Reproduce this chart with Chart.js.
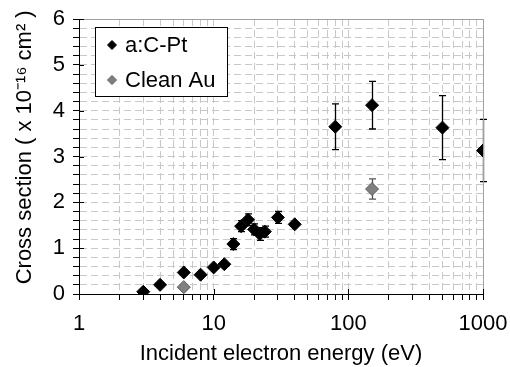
<!DOCTYPE html>
<html>
<head>
<meta charset="utf-8">
<script src="https://cdn.jsdelivr.net/npm/chart.js@4/dist/chart.umd.min.js"></script>
<style>
  html, body { margin: 0; padding: 0; background: #fff; }
  #c { display: block; }
</style>
</head>
<body>
<canvas id="c" width="510" height="367"></canvas>
<script>
// ---- Data ----
const seriesNames = ['a:C-Pt', 'Clean Au'];
const cptEnergy = [3, 4, 6, 8, 10, 12, 14, 16, 18, 20, 22, 24, 30, 40, 80, 150, 500, 1000];
const cptCross  = [0.05, 0.2, 0.47, 0.42, 0.58, 0.65, 1.09, 1.48, 1.62, 1.41, 1.31, 1.36, 1.67, 1.52, 3.65, 4.12, 3.63, 3.13];
const cptErr    = [0, 0, 0, 0, 0, 0, 0.12, 0.12, 0.13, 0.12, 0.14, 0.12, 0.13, 0, 0.5, 0.52, 0.7, 0.68];
const auEnergy  = [6, 150];
const auCross   = [0.15, 2.29];
const auErr     = [0, 0.22];
const xTickLabels = [1, 10, 100, 1000];
const yTickLabels = [0, 1, 2, 3, 4, 5, 6];

const FONT = "'Liberation Sans', Arial, sans-serif";
const FS = 22;
const errData = [cptErr, auErr];
const errColors = ['#000000', '#555555'];
const pointFill = ['#000000', '#808080'];
const pointBorder = ['#000000', '#5a5a5a'];

// minor log tick positions between labelled decades
const xGridTicks = [];
for (let i = 0; i < xTickLabels.length - 1; i++) {
  const d = xTickLabels[i];
  for (let m = 1; m < 10; m++) xGridTicks.push(d * m);
}
xGridTicks.push(xTickLabels[xTickLabels.length - 1]);

const extrasPlugin = {
  id: 'extras',
  beforeDatasetsDraw(chart) {
    const ctx = chart.ctx, xs = chart.scales.x, ys = chart.scales.y;
    chart.data.datasets.forEach((ds, di) => {
      const errs = errData[di];
      ctx.save();
      ctx.strokeStyle = errColors[di];
      ctx.lineWidth = 1.3;
      ds.data.forEach((p, i) => {
        const e = errs[i];
        if (!e) return;
        const px = Math.round(xs.getPixelForValue(p.x)) + 0.5;
        const y1 = ys.getPixelForValue(p.y + e);
        const y2 = ys.getPixelForValue(p.y - e);
        ctx.beginPath();
        ctx.moveTo(px, y1); ctx.lineTo(px, y2);
        ctx.moveTo(px - 3.5, y1); ctx.lineTo(px + 3.5, y1);
        ctx.moveTo(px - 3.5, y2); ctx.lineTo(px + 3.5, y2);
        ctx.stroke();
      });
      ctx.restore();
    });
  },
  afterDraw(chart) {
    const ctx = chart.ctx, a = chart.chartArea, xs = chart.scales.x, ys = chart.scales.y;
    ctx.save();
    // plot-area top/right border
    ctx.strokeStyle = '#a0a0a0';
    ctx.lineWidth = 1;
    ctx.beginPath();
    ctx.moveTo(a.left, Math.round(a.top) + 0.5);
    ctx.lineTo(Math.round(a.right) + 0.5, Math.round(a.top) + 0.5);
    ctx.lineTo(Math.round(a.right) + 0.5, a.bottom);
    ctx.stroke();
    // major tick marks crossing axes
    ctx.strokeStyle = '#000';
    ctx.beginPath();
    xTickLabels.forEach(v => {
      const px = Math.round(xs.getPixelForValue(v)) + 0.5;
      ctx.moveTo(px, a.bottom); ctx.lineTo(px, a.bottom - 5);
    });
    yTickLabels.forEach(v => {
      const py = Math.round(ys.getPixelForValue(v)) + 0.5;
      ctx.moveTo(a.left, py); ctx.lineTo(a.left + 5, py);
    });
    ctx.stroke();

    // legend box
    const bx = a.left + 16, by = a.top + 8, bw = 132, bh = 69;
    ctx.fillStyle = '#fff';
    ctx.fillRect(bx, by, bw, bh);
    ctx.strokeStyle = '#000';
    ctx.lineWidth = 1;
    ctx.strokeRect(bx + 0.5, by + 0.5, bw, bh);
    ctx.font = FS + 'px ' + FONT;
    ctx.textBaseline = 'middle';
    ctx.textAlign = 'left';
    chart.data.datasets.forEach((ds, di) => {
      const cy = by + 18 + di * 35;
      const cx = bx + 17;
      ctx.beginPath();
      ctx.moveTo(cx - 4.5, cy); ctx.lineTo(cx, cy - 4.5);
      ctx.lineTo(cx + 4.5, cy); ctx.lineTo(cx, cy + 4.5);
      ctx.closePath();
      ctx.fillStyle = pointFill[di];
      ctx.fill();
      ctx.strokeStyle = pointBorder[di];
      ctx.stroke();
      ctx.fillStyle = '#000';
      ctx.fillText(ds.label, bx + 30, cy + 1);
    });
    ctx.restore();
  }
};

const toPts = (xs, ys) => xs.map((x, i) => ({ x: x, y: ys[i] }));

new Chart(document.getElementById('c'), {
  type: 'scatter',
  data: {
    datasets: [
      { label: seriesNames[0], data: toPts(cptEnergy, cptCross), pointStyle: 'rectRot', pointRadius: 6.5,
        backgroundColor: pointFill[0], borderColor: pointBorder[0], borderWidth: 1 },
      { label: seriesNames[1], data: toPts(auEnergy, auCross), pointStyle: 'rectRot', pointRadius: 6.5,
        backgroundColor: pointFill[1], borderColor: pointBorder[1], borderWidth: 1 }
    ]
  },
  options: {
    responsive: false,
    devicePixelRatio: 1,
    animation: false,
    layout: { padding: { top: 19, right: 27, left: 0, bottom: 0 } },
    plugins: { legend: { display: false }, tooltip: { enabled: false } },
    scales: {
      x: {
        type: 'logarithmic',
        min: 1, max: 1000,
        afterBuildTicks: (s) => { s.ticks = xGridTicks.map(v => ({ value: v })); },
        afterFit: (s) => { s.height = 73; s.paddingLeft = 0; s.paddingRight = 0; },
        ticks: {
          autoSkip: false, maxRotation: 0, color: '#000', padding: 11,
          font: { family: FONT, size: FS },
          callback: (v) => xTickLabels.includes(v) ? String(v) : ''
        },
        grid: { color: '#c8c8c8', tickColor: '#000', tickLength: 6, lineWidth: 1 },
        border: { color: '#000', width: 1, dash: [7, 4] },
        title: { display: true, text: 'Incident electron energy (eV)', color: '#000',
                 font: { family: FONT, size: FS }, padding: { top: 0, bottom: 0 } }
      },
      y: {
        min: 0, max: 6,
        afterFit: (s) => { s.width = 79; s.paddingTop = 0; s.paddingBottom = 0; },
        ticks: {
          stepSize: 0.2, autoSkip: false, color: '#000', padding: 8,
          font: { family: FONT, size: FS },
          callback: (v) => {
            const r = Math.round(v);
            return (Math.abs(v - r) < 1e-6 && yTickLabels.includes(r)) ? String(r) : '';
          }
        },
        grid: { color: '#c8c8c8', tickColor: '#000', tickLength: 6, lineWidth: 1 },
        border: { color: '#000', width: 1, dash: [7, 4] },
        title: { display: true, text: '   Cross section ( x 10\u207B\u00B9\u2076 cm\u00B2 )', color: '#000',
                 font: { family: FONT, size: FS }, padding: { top: 12, bottom: 0 } }
      }
    }
  },
  plugins: [extrasPlugin]
});
</script>
</body>
</html>
